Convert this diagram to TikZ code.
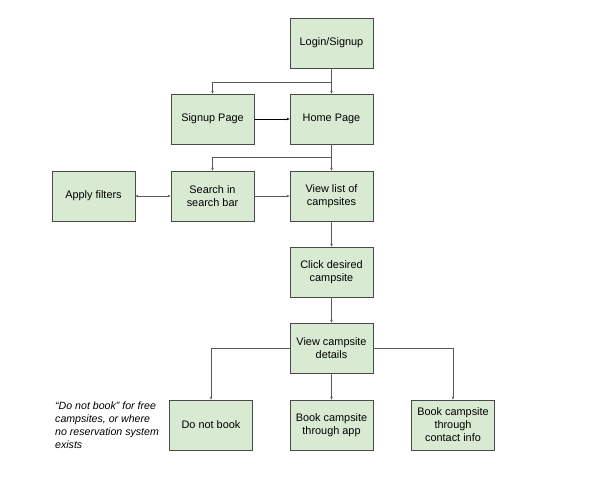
\documentclass[tikz,border=0pt]{standalone}
\usepackage{fontspec}
\setmainfont{Liberation Sans}
\usetikzlibrary{arrows.meta,shadows}
\definecolor{boxfill}{HTML}{D9EAD3}
\definecolor{boxline}{HTML}{4A4A4A}
\definecolor{conn}{HTML}{595959}
\begin{document}
\begin{tikzpicture}[x=1pt,y=-1pt,
  box/.style={rectangle,draw=boxline,line width=0.7pt,fill=boxfill,minimum width=83pt,minimum height=50pt,inner sep=2pt,align=center,font=\fontsize{10.9}{13}\selectfont,drop shadow={shadow xshift=0.8pt,shadow yshift=-1pt,opacity=0.25}},
  link/.style={draw=conn,line width=0.5pt,-{Stealth[length=3pt,width=2.5pt]}},
  plain/.style={draw=conn,line width=0.5pt}]
\useasboundingbox (0,0) rectangle (600,477);
\node[box] (login) at (331.5,43) {Login/Signup};
\node[box] (signup) at (212.5,119) {Signup Page};
\node[box] (home) at (331.5,119) {Home Page};
\node[box] (apply) at (93.5,196) {Apply filters};
\node[box] (search) at (212.5,196) {Search in\\search bar};
\node[box] (list) at (331.5,196) {View list of\\campsites};
\node[box] (click) at (331.5,272) {Click desired\\campsite};
\node[box] (details) at (331.5,348) {View campsite\\details};
\node[box] (donot) at (211,425) {Do not book};
\node[box] (app) at (331.5,425) {Book campsite\\through app};
\node[box] (contact) at (453,425) {Book campsite\\through\\contact info};
\node[anchor=north west,inner sep=0pt,align=left,font=\fontsize{10.6}{13}\selectfont\itshape] (note) at (55,402) {“Do not book” for free\\campsites, or where\\no reservation system\\exists};
\coordinate (j1) at (331.5,82);
\coordinate (j2) at (331.5,157);
\draw[plain] (login.south) -- (j1);
\draw[link] (j1) -- (home.north);
\draw[link] (j1) -| (signup.north);
\draw[link,draw=black] (signup.east) -- (home.west);
\draw[plain] (home.south) -- (j2);
\draw[link] (j2) -- (list.north);
\draw[link] (j2) -| (search.north);
\draw[draw=conn,line width=0.5pt,{Stealth[length=3pt,width=2.5pt]}-{Stealth[length=3pt,width=2.5pt]}] (apply.east) -- (search.west);
\draw[link] (search.east) -- (list.west);
\draw[link] (list.south) -- (click.north);
\draw[link] (click.south) -- (details.north);
\draw[link] (details.west) -| (donot.north);
\draw[link] (details.south) -- (app.north);
\draw[link] (details.east) -| (contact.north);
\end{tikzpicture}
\end{document}
